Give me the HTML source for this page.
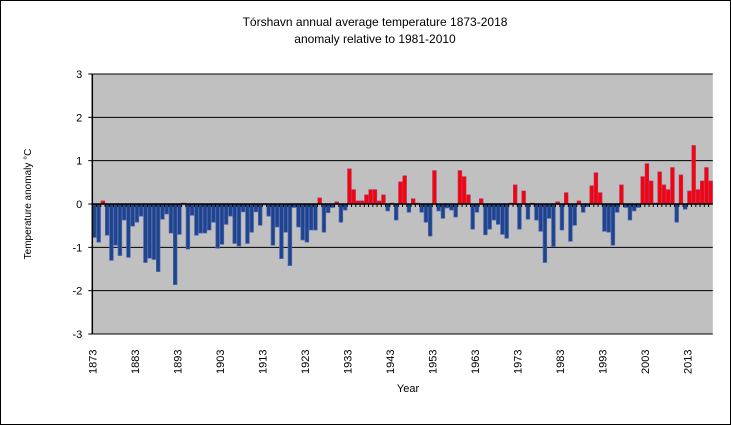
<!DOCTYPE html>
<html><head><meta charset="utf-8"><style>
body{margin:0;background:#fff}
svg{display:block;font-family:"Liberation Sans",sans-serif}
</style></head><body>
<svg width="731" height="425">
<rect x="0.5" y="0.5" width="730" height="424" fill="#fff" stroke="#000"/>
<text x="375" y="26" font-size="12" text-anchor="middle">Tórshavn  annual  average  temperature 1873-2018</text>
<text x="375" y="43" font-size="12" text-anchor="middle">anomaly relative to 1981-2010</text>
<text transform="translate(31,204) rotate(-90)" font-size="10" text-anchor="middle">Temperature anomaly °C</text>
<text x="408" y="392" font-size="11" text-anchor="middle">Year</text>
<g id="plot"></g>
</svg>
<script>
const startYear = 1873;
const values = [-0.77,-0.88,0.07,-0.72,-1.30,-0.95,-1.19,-0.37,-1.23,-0.51,-0.42,-0.28,-1.35,-1.25,-1.28,-1.56,-0.35,-0.23,-0.67,-1.86,-0.70,0.02,-1.04,-0.26,-0.72,-0.67,-0.67,-0.60,-0.42,-1.02,-0.93,-0.47,-0.28,-0.91,-0.97,-0.18,-0.91,-0.65,-0.18,-0.49,-0.02,-0.28,-0.95,-0.53,-1.26,-0.65,-1.42,-0.08,-0.53,
-0.83,-0.88,-0.60,-0.60,0.14,-0.65,-0.20,-0.08,0.05,-0.42,-0.14,0.81,0.33,0.07,0.07,0.21,0.33,0.33,0.07,0.21,-0.16,0.02,-0.37,0.51,0.65,-0.19,0.12,0.02,-0.19,-0.42,-0.74,0.77,-0.16,-0.33,-0.09,-0.14,-0.30,0.77,0.63,0.21,-0.58,-0.19,0.12,-0.71,-0.58,-0.37,-0.47,-0.70,-0.79,
0.02,0.44,-0.58,0.30,-0.35,0.02,-0.37,-0.63,-1.35,-0.33,-0.98,0.05,-0.60,0.26,-0.86,-0.49,0.07,-0.19,-0.06,0.42,0.72,0.26,-0.63,-0.65,-0.95,-0.19,0.44,-0.08,-0.37,-0.16,-0.08,0.63,0.93,0.53,0.02,0.74,0.44,0.33,0.84,-0.42,0.67,-0.12,0.30,1.35,0.33,0.53,0.84,0.53];
const yTicks = [-3,-2,-1,0,1,2,3];
const xLabelYears = [1873,1883,1893,1903,1913,1923,1933,1943,1953,1963,1973,1983,1993,2003,2013];

const NS="http://www.w3.org/2000/svg";
const g=document.getElementById('plot');
const L=92.3,R=712.8,T=74,B=334,ymin=-3,ymax=3;
const bw=(R-L)/values.length;
const y=v=>T+(ymax-v)/(ymax-ymin)*(B-T);
const x=i=>L+i*bw;
function mk(tag,attrs){const e=document.createElementNS(NS,tag);for(const k in attrs)e.setAttribute(k,attrs[k]);g.appendChild(e);return e;}
let e=mk('rect',{x:L,y:T,width:R-L,height:B-T,fill:'#c0c0c0'});


yTicks.forEach(t=>{
  if(t!==0){const l=mk('line',{x1:L,x2:R,y1:y(t),y2:y(t),stroke:'#000','stroke-width':1});
  
  }
  const tk=mk('line',{x1:L-4,x2:L,y1:y(t),y2:y(t),stroke:'#000'});
  
  
  const tx=mk('text',{x:L-10,y:y(t)+4,'font-size':11,'text-anchor':'end'});
  tx.textContent=t;
  
  
});
values.forEach((v,i)=>{
  const pos=v>=0;
  const r=mk('rect',{x:x(i)+0.3,y:pos?y(v):y(0),width:bw-0.6,height:Math.max(0.5,Math.abs(y(v)-y(0))),
    fill:pos?'#ff0000':'#1f4585',stroke:pos?'#b03070':'#4a62c0','stroke-width':0.7});
  
  
  const tk=mk('line',{x1:x(i),x2:x(i),y1:y(0),y2:y(0)+3,stroke:'#000'});
  
  
});
e=mk('line',{x1:L,x2:R,y1:y(0),y2:y(0),stroke:'#000','stroke-width':1.5});


e=mk('line',{x1:L,x2:L,y1:T,y2:B,stroke:'#000','stroke-width':1.5});


xLabelYears.forEach(yr=>{
  const cx=x(yr-startYear)+4;
  const t=mk('text',{transform:`translate(${cx},374) rotate(-90)`,'font-size':11});
  t.textContent=yr;
  
  
});
</script>
</body></html>
